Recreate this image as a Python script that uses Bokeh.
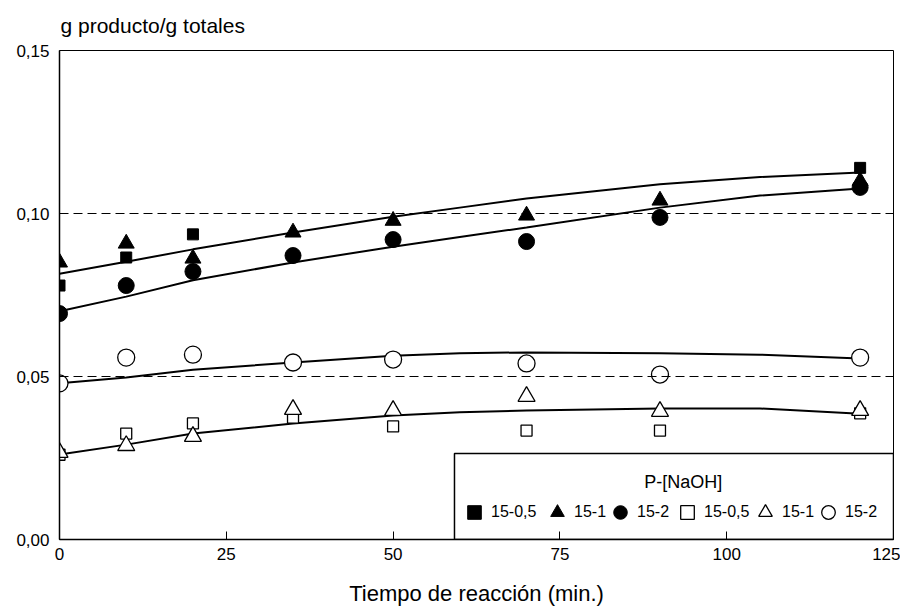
from bokeh.plotting import figure
from bokeh.models import (Span, Label, BoxAnnotation, Legend, LegendItem,
                          FixedTicker, CustomJSTickFormatter, Range1d)
from bokeh.embed import file_html
from bokeh.resources import INLINE

FONT = "Liberation Sans"

# ---------------- data ----------------
time_min = [0, 10, 20, 35, 50, 70, 90, 120]

sq_filled_x = [0, 10, 20, 120]
sq_filled_y = [0.0779, 0.0865, 0.0936, 0.1140]
tri_filled_y = [0.0850, 0.0908, 0.0862, 0.0942, 0.0978, 0.0994, 0.1040, 0.1100]
circ_filled_y = [0.0693, 0.0779, 0.0822, 0.0871, 0.0920, 0.0914, 0.0988, 0.1080]

sq_open_y = [0.0260, 0.0325, 0.0356, 0.0374, 0.0347, 0.0334, 0.0334, 0.0387]
tri_open_y = [0.0267, 0.0288, 0.0316, 0.0399, 0.0396, 0.0439, 0.0393, 0.0396]
circ_open_y = [0.0479, 0.0558, 0.0567, 0.0543, 0.0552, 0.0540, 0.0506, 0.0558]

fit_x = [0, 10, 20, 35, 50, 60, 70, 90, 105, 120]
fit_upper = [0.0815, 0.0852, 0.0890, 0.0942, 0.0990, 0.1018, 0.1046, 0.1090, 0.1112, 0.1126]
fit_lower = [0.0700, 0.0745, 0.0795, 0.0850, 0.0898, 0.0928, 0.0957, 0.1018, 0.1055, 0.1077]
fit_open_circ = [0.0479, 0.0497, 0.0521, 0.0543, 0.0564, 0.0571, 0.0574, 0.0571, 0.0567, 0.0555]
fit_open_low = [0.0261, 0.0291, 0.0325, 0.0356, 0.0380, 0.0390, 0.0396, 0.0402, 0.0402, 0.0386]

x_ticks = [0, 25, 50, 75, 100, 125]
y_ticks = [0.0, 0.05, 0.10, 0.15]
dashed_levels = [0.05, 0.10]

legend_title = "P-[NaOH]"
legend_labels = ["15-0,5", "15-1", "15-2", "15-0,5", "15-1", "15-2"]

# ---------------- figure ----------------
p = figure(width=900, height=608, output_backend="svg", toolbar_location=None,
           x_range=Range1d(0, 125), y_range=Range1d(0, 0.15),
           min_border_left=59, min_border_right=7, min_border_top=50,
           min_border_bottom=69)
p.background_fill_color = "white"
p.border_fill_color = "white"
p.outline_line_color = "black"
p.outline_line_width = 1
p.xgrid.visible = False
p.ygrid.visible = False

# title (y quantity) above the plot
p.title.text = "g producto/g totales"
p.title.align = "left"
p.title.vertical_align = "top"
p.title.offset = 1
p.title.standoff = 23
p.title.text_font = FONT
p.title.text_font_size = "21px"
p.title.text_font_style = "normal"
p.title.text_color = "black"

# axes
p.xaxis.ticker = FixedTicker(ticks=x_ticks)
p.yaxis.ticker = FixedTicker(ticks=y_ticks)
p.yaxis.formatter = CustomJSTickFormatter(code="return tick.toFixed(2).replace('.', ',');")
p.xaxis.major_tick_in = 8
p.xaxis.major_tick_out = 0
p.yaxis.major_tick_in = 0
p.yaxis.major_tick_out = 0
p.xaxis.minor_tick_line_color = None
p.yaxis.minor_tick_line_color = None
for ax in (p.xaxis, p.yaxis):
    ax.axis_line_color = "black"
    ax.axis_line_width = 1.5
    ax.major_tick_line_color = "black"
    ax.major_label_text_font = FONT
    ax.major_label_text_font_size = "17px"
    ax.major_label_text_color = "black"
p.xaxis.major_label_standoff = 8
p.yaxis.major_label_standoff = 10
p.xaxis.axis_label = "Tiempo de reacción (min.)"
p.xaxis.axis_label_text_font = FONT
p.xaxis.axis_label_text_font_size = "22px"
p.xaxis.axis_label_text_font_style = "normal"
p.xaxis.axis_label_text_color = "black"
p.xaxis.axis_label_standoff = 18

# dashed reference lines
for lv in dashed_levels:
    p.add_layout(Span(location=lv, dimension="width", line_color="black",
                      line_width=1, line_dash="9 5"))

# fitted curves
for fy in (fit_upper, fit_lower, fit_open_circ, fit_open_low):
    p.line(fit_x, fy, line_color="black", line_width=2)

# markers
r1 = p.scatter(sq_filled_x, sq_filled_y, marker="square", size=11,
               fill_color="black", line_color="black")
r2 = p.scatter(time_min, tri_filled_y, marker="triangle", size=16,
               fill_color="black", line_color="black")
r3 = p.scatter(time_min, circ_filled_y, marker="circle", size=16,
               fill_color="black", line_color="black")
r4 = p.scatter(time_min, sq_open_y, marker="square", size=11,
               fill_color="white", line_color="black", line_width=1.3)
r5 = p.scatter(time_min, tri_open_y, marker="triangle", size=17,
               fill_color="white", line_color="black", line_width=1.3)
r6 = p.scatter(time_min, circ_open_y, marker="circle", size=17,
               fill_color="white", line_color="black", line_width=1.3)

# legend box and title
p.add_layout(BoxAnnotation(left=59.2, right=125, bottom=0, top=0.0264,
                           fill_alpha=0, line_color="black", line_alpha=1,
                           line_width=1.5))
p.add_layout(Label(x=93.5, y=0.0175, text=legend_title, text_font=FONT,
                   text_font_size="18px", text_color="black",
                   text_align="center", text_baseline="middle"))

# individual legend items positioned like the reference
glyph_centers = [474, 557, 620, 687, 765, 828]   # page px
renderers = [r1, r2, r3, r4, r5, r6]
for lab, rr, cx in zip(legend_labels, renderers, glyph_centers):
    lg = Legend(items=[LegendItem(label=lab, renderers=[rr])],
                location=(cx - 59 - 17, 539 - 512 - 17),
                orientation="horizontal", glyph_width=34, glyph_height=34,
                label_standoff=0, padding=0, margin=0, spacing=0,
                border_line_alpha=0, background_fill_alpha=0,
                label_text_font=FONT, label_text_font_size="16px",
                label_text_color="black")
    p.add_layout(lg)

open("out.html", "w").write(file_html(p, INLINE))
